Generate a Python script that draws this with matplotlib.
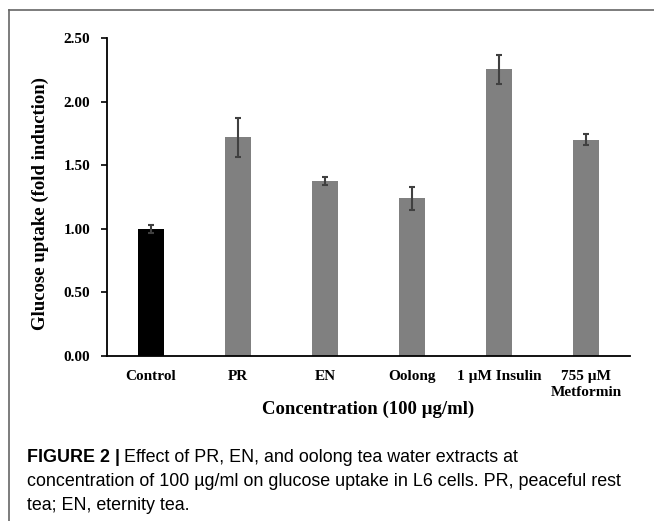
import numpy as np
import matplotlib.pyplot as plt
from matplotlib.lines import Line2D

categories = ['Control', 'PR', 'EN', 'Oolong', '1 \u00b5M Insulin', '755 \u00b5M\nMetformin']
uptake = [1.00, 1.72, 1.375, 1.24, 2.255, 1.70]
errors = [0.03, 0.155, 0.03, 0.09, 0.115, 0.045]
bar_colors = ['#000000', '#808080', '#808080', '#808080', '#808080', '#808080']
yticks = [0.0, 0.5, 1.0, 1.5, 2.0, 2.5]

serif = ['Liberation Serif', 'DejaVu Serif']
sans = ['Liberation Sans', 'DejaVu Sans']

fig = plt.figure(figsize=(6.54, 5.21), dpi=100)
ax = fig.add_axes([107 / 654, 1 - 356 / 521, 523 / 654, 318 / 521])

x = np.arange(len(categories))
ax.bar(x, uptake, width=0.3, color=bar_colors, zorder=2)
ax.errorbar(x, uptake, yerr=errors, fmt='none', ecolor='#404040',
            elinewidth=1.5, capsize=2, capthick=1.5, zorder=3)

ax.set_xlim(-0.5, 5.5)
ax.set_ylim(0, 2.5)
ax.set_yticks(yticks)
ax.set_yticklabels(['%.2f' % v for v in yticks], fontfamily=serif,
                   fontweight='bold', fontsize=11)
ax.set_xticks(x)
ax.set_xticklabels(categories, fontfamily=serif, fontweight='bold',
                   fontsize=11, linespacing=1.3)
ax.tick_params(axis='x', length=0, pad=10)
ax.tick_params(axis='y', length=4, width=1.2, direction='out', pad=8)

for side in ['top', 'right']:
    ax.spines[side].set_visible(False)
ax.spines['left'].set_linewidth(1.3)
ax.spines['bottom'].set_linewidth(1.3)

ax.set_xlabel('Concentration (100 \u00b5g/ml)', fontfamily=serif,
              fontweight='bold', fontsize=13.5, labelpad=1)
ax.set_ylabel('Glucose uptake (fold induction)', fontfamily=serif,
              fontweight='bold', fontsize=13.5, labelpad=10)
ax.yaxis.set_label_coords(-0.11, 0.48)

# frame around figure panel
fig.add_artist(Line2D([9 / 654, 1], [1 - 10 / 521, 1 - 10 / 521],
                      color='#666666', lw=1.2))
fig.add_artist(Line2D([9 / 654, 9 / 654], [0, 1 - 10 / 521],
                      color='#666666', lw=1.2))

# caption
cap_size = 12.9
t1 = fig.text(27 / 654, 1 - 457 / 521, 'FIGURE 2 |', fontfamily=sans,
              fontweight='bold', fontsize=cap_size, va='center')
fig.canvas.draw()
bb = t1.get_window_extent()
fig.text((bb.x1 + 4) / 654, 1 - 457 / 521,
         'Effect of PR, EN, and oolong tea water extracts at',
         fontfamily=sans, fontsize=cap_size, va='center')
fig.text(27 / 654, 1 - 482 / 521,
         'concentration of 100 \u00b5g/ml on glucose uptake in L6 cells. PR, peaceful rest',
         fontfamily=sans, fontsize=cap_size, va='center')
fig.text(27 / 654, 1 - 506 / 521, 'tea; EN, eternity tea.',
         fontfamily=sans, fontsize=cap_size, va='center')

fig.savefig('out.png', dpi=100)
